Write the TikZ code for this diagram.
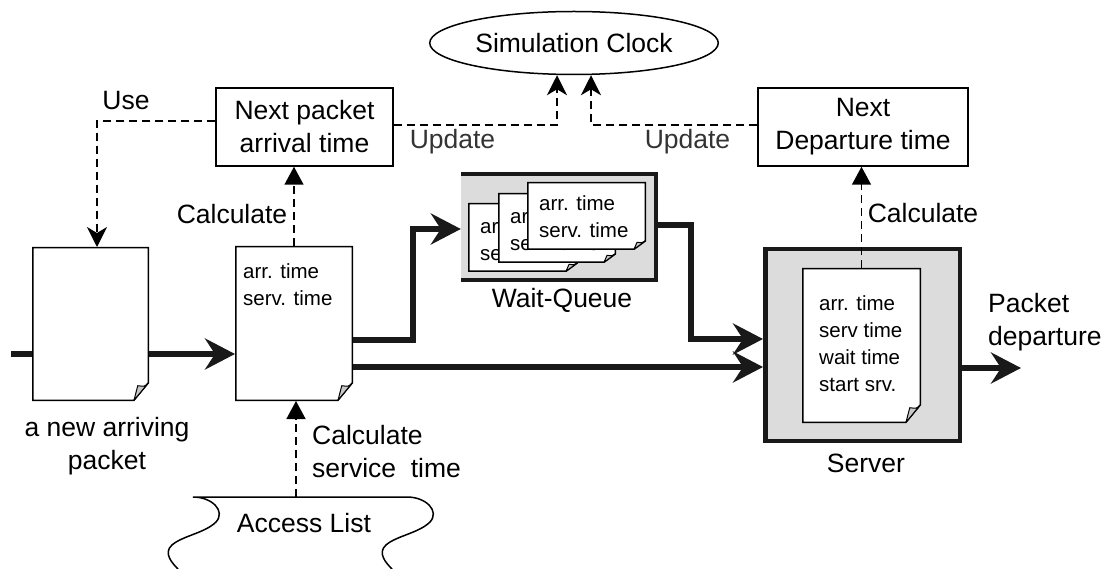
\documentclass[tikz,border=0pt]{standalone}
\usepackage{fontspec}
\setmainfont{Liberation Sans}
\usetikzlibrary{arrows.meta,shapes.geometric,calc,backgrounds}

\definecolor{boxgray}{RGB}{220,220,220}
\definecolor{flapgray}{RGB}{200,200,200}

\tikzset{
  big/.style={font=\fontsize{26.5pt}{33pt}\selectfont},
  small/.style={font=\fontsize{20.5pt}{27pt}\selectfont},
  box/.style={draw, line width=1.5pt, rectangle, inner sep=0pt, align=center, big},
  flow/.style={line width=5.5pt, draw=black!90,
    -{Stealth[length=30pt,width=31pt,inset=10pt]}},
  dash line/.style={line width=1.5pt, dash pattern=on 8pt off 5pt},
  usearrow/.style={dash line, -{Stealth[length=20pt,width=20pt,inset=6pt]}},
  calcarrow/.style={dash line, -{Triangle[length=18pt,width=19pt]}},
  % a sheet of paper with a folded lower right corner:
  % width, height, fold width, fold height
  sheet/.style n args={4}{rectangle, inner sep=0pt, outer sep=0pt,
    minimum width=#1pt, minimum height=#2pt,
    path picture={
      \path[fill=white, draw=black, line width=1.5pt]
        ([shift={(.75pt,-.75pt)}]path picture bounding box.north west)
        -- ([shift={(-.75pt,-.75pt)}]path picture bounding box.north east)
        -- ([shift={(-.75pt,#4pt)}]path picture bounding box.south east)
        -- ([shift={(-#3pt,.75pt)}]path picture bounding box.south east)
        -- ([shift={(.75pt,.75pt)}]path picture bounding box.south west)
        -- cycle;
      \path[fill=flapgray, draw=black, line width=1pt, line join=round]
        ([shift={(-.75pt,#4pt)}]path picture bounding box.south east)
        .. controls ([shift={(-0.3*#3pt,0.8*#4pt)}]path picture bounding box.south east)
        .. ([shift={(-0.75*#3pt,0.85*#4pt)}]path picture bounding box.south east)
        -- ([shift={(-#3pt,.75pt)}]path picture bounding box.south east)
        -- cycle;
    }},
  sheettext/.style={small, anchor=north west, inner sep=0pt, align=left}
}

\begin{document}
\begin{tikzpicture}[x=1pt, y=-1pt]
\useasboundingbox (0,0) rectangle (1111,569);

% clock and the two event times
\node[draw, ellipse, line width=1.5pt, minimum width=278pt, minimum height=63pt, big]
  (clock) at (574,43) {Simulation Clock};
\node[box, minimum width=177pt, minimum height=78pt] (nat) at (304.5,127)
  {Next packet\\arrival time};
\node[box, minimum width=210pt, minimum height=78pt] (ndt) at (863,127)
  {Next\\Departure time};

% packets
\node[sheet={117}{154}{15}{18}] (pk1) at (90.5,324) {};
\node[sheet={118}{155}{15}{18},
  label={[sheettext, xshift=8pt, yshift=-17pt]north west:{arr. time\\serv. time}}]
  (pk2) at (294,323.5) {};

% wait queue
\node[fill=boxgray, inner sep=0pt, minimum width=194.75pt, minimum height=105.5pt]
  (queue) at (558.4,227) {};
\draw[line width=4.5pt, draw=black!90] (queue.north west) -- (queue.north east)
  -- (queue.south east) -- (queue.south west);
\node[sheet={110}{69}{12}{9},
  label={[sheettext, xshift=12pt, yshift=-15pt]north west:{arr. time\\serv. time}}]
  (q1) at (523,237.5) {};
\node[sheet={118}{70}{12}{9},
  label={[sheettext, xshift=12pt, yshift=-15pt]north west:{arr. time\\serv. time}}]
  (q2) at (557,228) {};
\node[sheet={119}{68}{12}{9},
  label={[sheettext, xshift=12pt, yshift=-13pt]north west:{arr. time\\serv. time}}]
  (q3) at (586.5,216) {};
\node[big] (wqlbl) at (562,300) {Wait-Queue};

% server
\node[fill=boxgray, draw=black!90, line width=4.5pt, inner sep=0pt,
  minimum width=194.5pt, minimum height=191.5pt] (server) at (862.5,345) {};
\node[sheet={119}{155}{15}{18},
  label={[sheettext, xshift=17pt, yshift=-27pt]north west:{arr. time\\serv time\\wait time\\start srv.}}]
  (pk3) at (861.5,345.5) {};
\node[big] (srvlbl) at (866,463) {Server};

% access list banner
\coordinate (acctop) at (296,497);
\draw[line width=1.5pt]
  (178,569) .. controls (172,563) and (163,553) .. (172,545)
  .. controls (182,536) and (205,533) .. (216,522)
  .. controls (226,511) and (212,497) .. (193,497)
  -- (407,497)
  .. controls (426,497) and (440,511) .. (430,522)
  .. controls (419,533) and (396,536) .. (386,545)
  .. controls (377,553) and (386,563) .. (392,569);
\node[big] (acclbl) at (304,523) {Access List};

% labels
\node[big] (uselbl) at (126,101) {Use};
\node[big] (calc1) at (232,214) {Calculate};
\node[big] (calc2) at (923,213) {Calculate};
\node[big, text=black!80] (upd1) at (452.5,142) {Update};
\node[big, text=black!80] (upd2) at (687.5,142) {Update};
\node[big, align=center] (newlbl) at (107,446) {a new arriving\\packet};
\node[big, align=left, anchor=west, inner sep=0pt] (calc3) at (312,452)
  {Calculate\\service\ \ time};
\node[big, align=left, anchor=west, inner sep=0pt] (deplbl) at (988,322)
  {Packet\\departure};

% dashed information flows
\coordinate (usebend) at (97,121);
\draw[usearrow] (usebend -| nat.west) -- (usebend) -- (usebend |- pk1.north);
\coordinate (updl) at (557,125);
\draw[usearrow] (updl -| nat.east) -- (updl) -- (updl |- clock.south);
\coordinate (updr) at (591,125);
\draw[usearrow] (updr -| ndt.west) -- (updr) -- (updr |- clock.south);
\draw[calcarrow] (pk2.north) -- (pk2.north |- nat.south);
\draw[calcarrow] (pk3.north) -- (pk3.north |- ndt.south);
\draw[calcarrow] (acctop) -- (acctop |- pk2.south);

% packet flow
\coordinate (src) at (11,354);
\begin{pgfonlayer}{background}
  \draw[flow] (src) -- (src -| pk2.west);
\end{pgfonlayer}
\coordinate (upa) at (413,340);
\coordinate (upb) at (413,229);
\draw[flow] (upa -| pk2.east) -- (upa) -- (upb) -- (upb -| queue.west);
\coordinate (dna) at (691,225);
\coordinate (dnb) at (691,339);
\draw[flow] (dna -| queue.east) -- (dna) -- (dnb) -- (dnb -| server.west);
\coordinate (low) at (560,367);
\draw[flow] (low -| pk2.east) -- (low -| server.west);
\coordinate (sink) at (1021,368);
\draw[flow] (sink -| server.east) -- (sink);
\end{tikzpicture}
\end{document}
